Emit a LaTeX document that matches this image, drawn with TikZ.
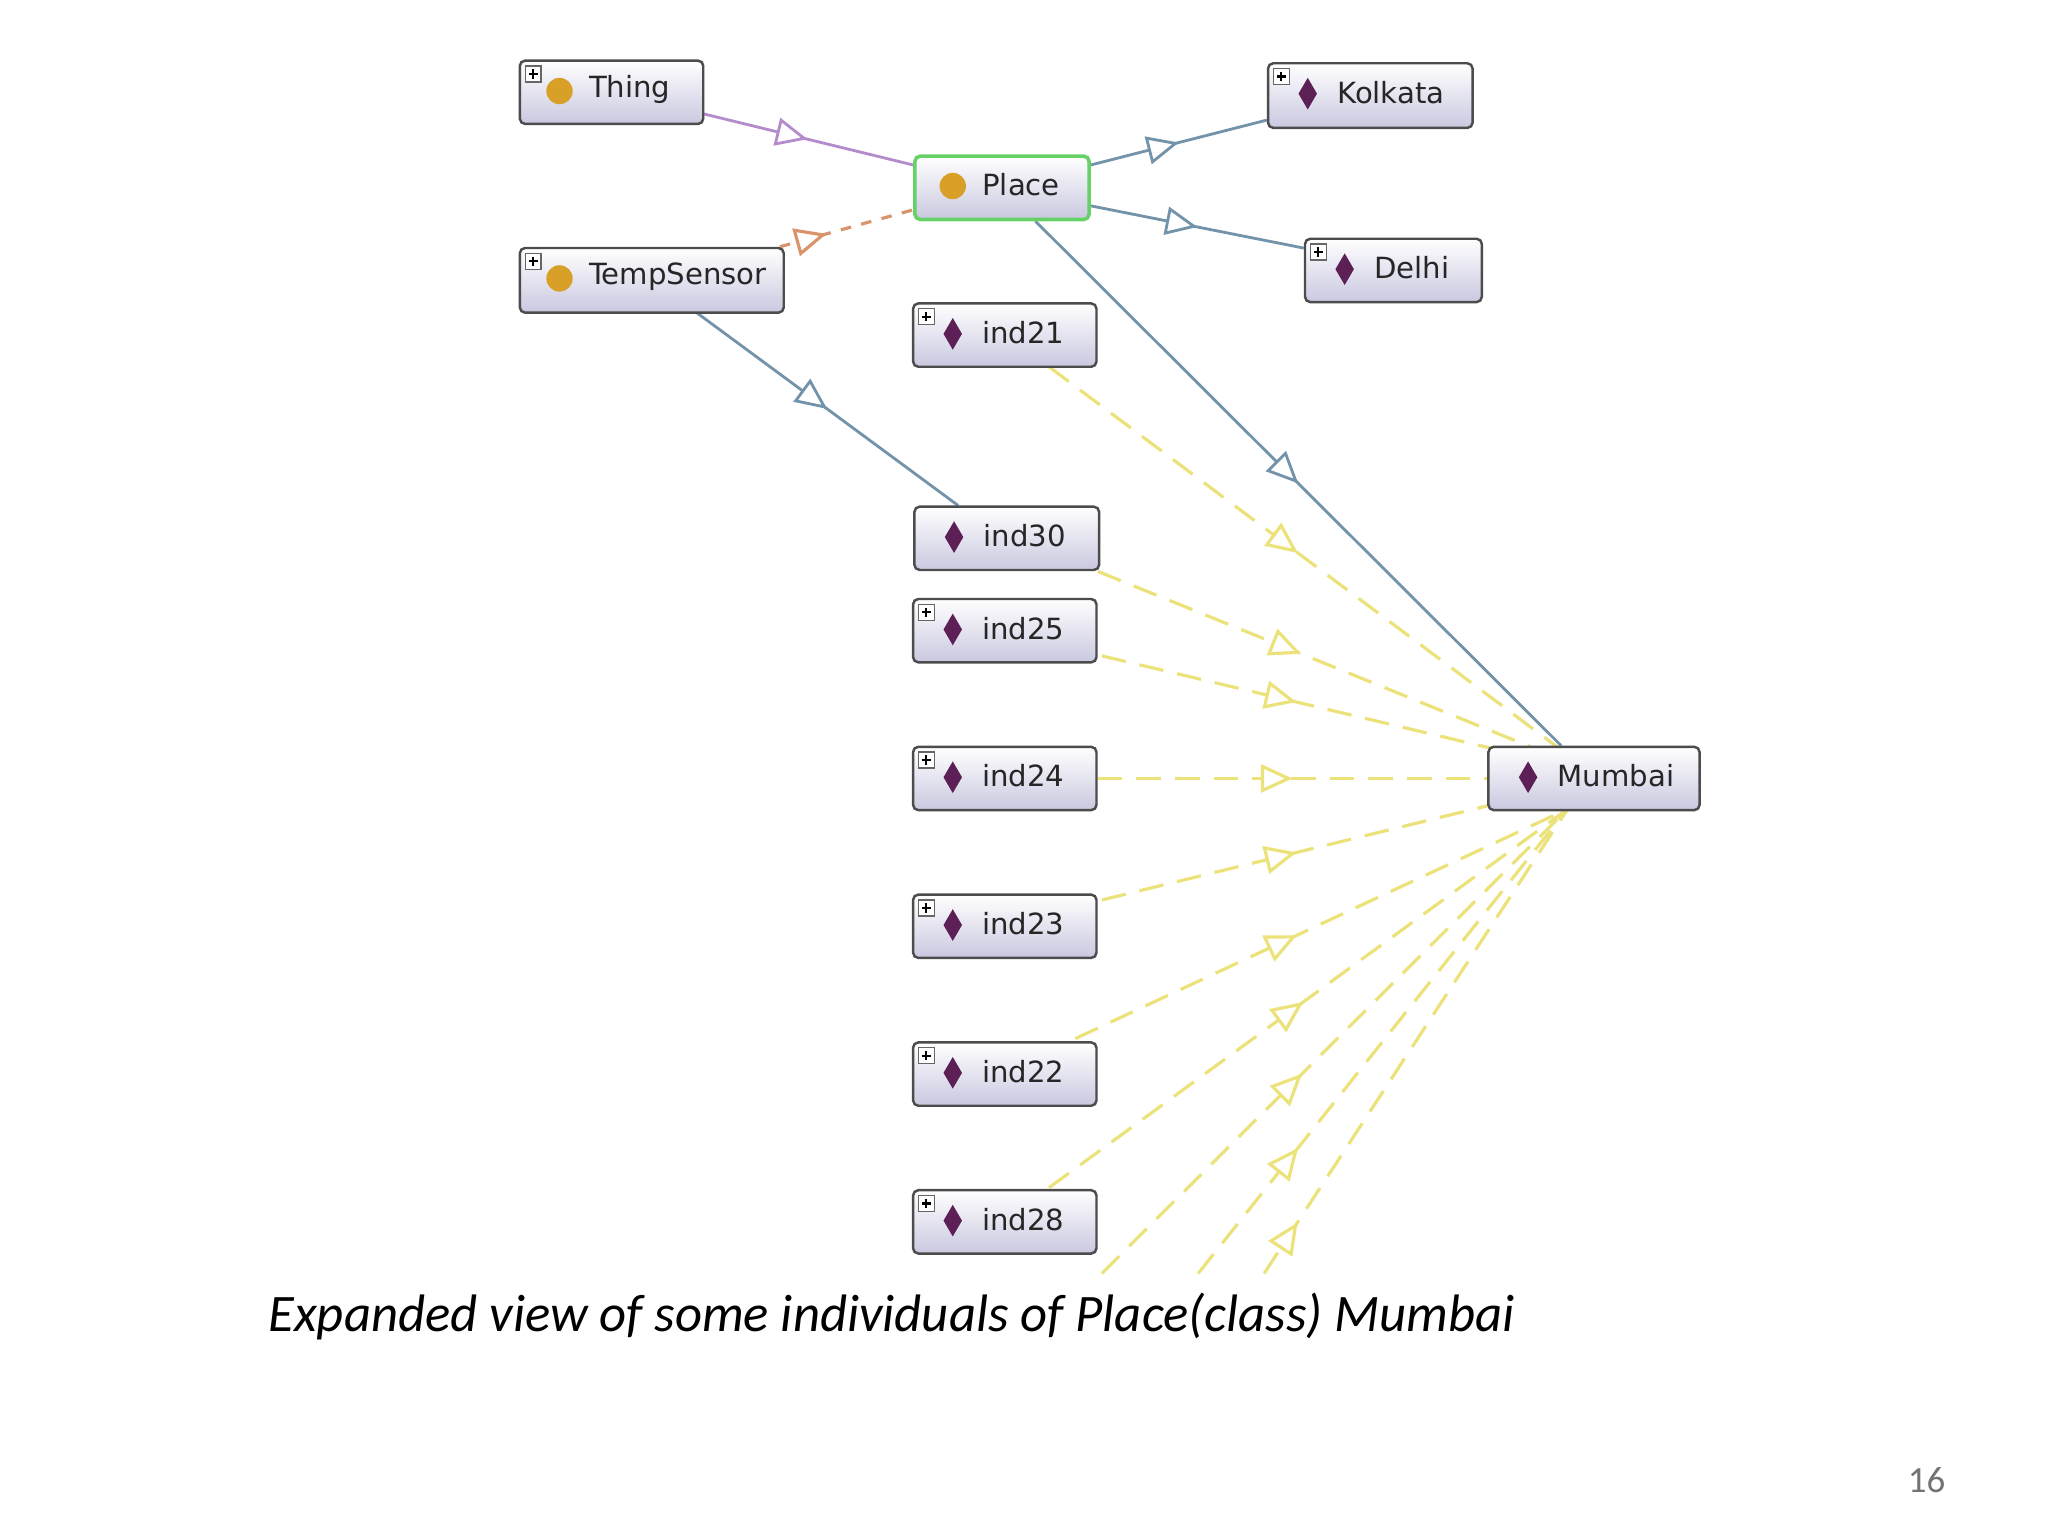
\documentclass[tikz,border=0pt]{standalone}
\usepackage{fontspec}
\setmainfont{DejaVu Sans}
\newfontfamily\capfont{Carlito}
\usetikzlibrary{arrows.meta,decorations.markings,backgrounds}
\definecolor{indc}{HTML}{5C1F56}
\definecolor{clsc}{HTML}{D9A027}
\definecolor{boxb}{HTML}{C9C8E0}
\definecolor{lpur}{HTML}{B58CCB}
\definecolor{lora}{HTML}{D8946A}
\definecolor{lblu}{HTML}{7393AA}
\definecolor{lyel}{HTML}{ECE27A}
\tikzset{
 x=0.0132cm,y=-0.0132cm,
 obx/.style={draw=black!70,rounded corners=1.5pt,top color=white,bottom color=boxb,line width=0.7pt,inner sep=0pt},
 mk/.style={postaction={decorate,decoration={markings,mark=at position #1 with {\arrow{Triangle[open,length=9pt,width=8pt,fill=white]}}}}},
 lab/.style={font=\fontsize{8.3}{10}\selectfont,text=black!85,anchor=west},
 ydash/.style={draw=lyel,line width=0.9pt,dash pattern=on 7pt off 4pt},
}
\newcommand\obox[8]{%
 \node[obx,minimum width={(#4-#2)*0.0132cm},minimum height={(#5-#3)*0.0132cm},anchor=north west] (#1) at (#2,#3) {};
 \ifx#6c\fill[clsc] (#2+31,#3+24) circle[radius=10];\else
 \fill[indc] (#2+31,#3+12)--(#2+38,#3+24)--(#2+31,#3+36)--(#2+24,#3+24)--cycle;\fi
 \node[lab] at (#2+44,#3+23) {#7};
 \ifx#8p\draw[black!60,fill=white,line width=0.4pt] (#2+5,#3+5) rectangle (#2+17,#3+17);
 \draw[black,line width=0.6pt] (#2+7.5,#3+11)--(#2+14.5,#3+11) (#2+11,#3+7.5)--(#2+11,#3+14.5);\fi
}
\begin{document}
\begin{tikzpicture}
\useasboundingbox (0,0) rectangle (1552,1164);
% nodes
\obox{thing}{393}{45}{532}{93}{c}{Thing}{p}
\obox{kolkata}{960}{47}{1115}{96}{i}{Kolkata}{p}
\obox{tempsensor}{393}{187}{593}{236}{c}{TempSensor}{p}
\obox{delhi}{988}{180}{1122}{228}{i}{Delhi}{p}
\obox{ind21}{691}{229}{830}{277}{i}{ind21}{p}
\obox{ind30}{692}{383}{832}{431}{i}{ind30}{n}
\obox{ind25}{691}{453}{830}{501}{i}{ind25}{p}
\obox{ind24}{691}{565}{830}{613}{i}{ind24}{p}
\obox{ind23}{691}{677}{830}{725}{i}{ind23}{p}
\obox{ind22}{691}{789}{830}{837}{i}{ind22}{p}
\obox{ind28}{691}{901}{830}{949}{i}{ind28}{p}
\obox{mumbai}{1127}{565}{1287}{613}{i}{Mumbai}{n}
\node[obx,draw=green!70!black!60,line width=1pt,minimum width={132*0.0132cm},minimum height={48*0.0132cm},anchor=north west] (place) at (692,117) {};
\fill[clsc] (722,141) circle[radius=10];
\node[lab] at (735,140) {Place};
% coordinates
\coordinate (mt) at (1180,566);
\coordinate (mb) at (1188,613);
\coordinate (o1) at (835,965);
\coordinate (o2) at (908,965);
\coordinate (o3) at (958,965);
\coordinate (tsa) at (528,237);
\coordinate (tsb) at (591,187);
\coordinate (i30a) at (726,383);
\coordinate (tha) at (532,86);
\coordinate (pla) at (692,125);
\coordinate (plb) at (692,159);
% edges
\begin{scope}[on background layer]
\fill[white] (0,0) rectangle (1552,1164);
\draw[lpur,line width=0.8pt,mk=0.5] (tha) -- (pla);
\draw[lora,dashed,line width=0.9pt,mk=0.35] (tsb) -- (plb);
\draw[lblu,line width=0.8pt,mk=0.5] (place.east|-0,125) -- (kolkata.west|-0,91);
\draw[lblu,line width=0.8pt,mk=0.5] (place.east|-0,156) -- (delhi.west|-0,188);
\draw[lblu,line width=0.8pt,mk=0.5] (place) -- (mumbai);
\draw[lblu,line width=0.8pt,mk=0.5] (tsa) -- (i30a);
\draw[ydash,mk=0.49] (795,278) -- (mt);
\draw[ydash,mk=0.47] (832,433) -- (1160,566);
\draw[ydash,mk=0.5] (835,497) -- (1130,567);
\draw[ydash,mk=0.5] (ind24) -- (mumbai);
\draw[ydash,mk=0.5] (835,682) -- (1130,610);
\draw[ydash,mk=0.45] (815,787) -- (mb);
\draw[ydash,mk=0.49] (795,900) -- (mb);
\draw[ydash,mk=0.43] (o1) -- (mb);
\draw[ydash,mk=0.27] (o2) -- (mb);
\draw[ydash,mk=0.11] (o3) -- (mb);
\end{scope}
\node[anchor=west,font=\capfont\itshape\fontsize{15}{18}\selectfont] (cap) at (194,998) {Expanded view of some individuals of Place(class) Mumbai};
\node[font=\capfont\fontsize{10.5}{13}\selectfont,text=black!55] (pg) at (1460,1122) {16};
\end{tikzpicture}
\end{document}
